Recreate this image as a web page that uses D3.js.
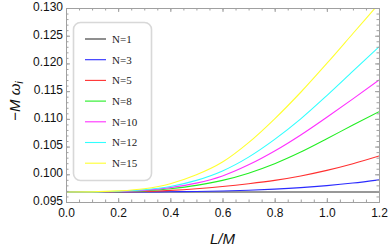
<!DOCTYPE html>
<html>
<head>
<meta charset="utf-8">
<script src="https://cdn.jsdelivr.net/npm/d3@7"></script>
<style>
  body { margin: 0; background: #fff; }
  svg { display: block; }
</style>
</head>
<body>
<svg id="chart" width="390" height="248"></svg>
<script>
// L/M sample points
const lValues = [0, 0.1, 0.2, 0.3, 0.4, 0.5, 0.6, 0.7, 0.8, 0.9, 1.0, 1.1, 1.2];

// -M omega_i, one list per N
const n1 = [0.0968, 0.0968, 0.0968, 0.0968, 0.0968, 0.0968, 0.0968, 0.0968, 0.0968, 0.0968, 0.0968, 0.0968, 0.0968];
const n3 = [0.0968, 0.0968, 0.0968, 0.09682, 0.09685, 0.0969, 0.09699, 0.09713, 0.09733, 0.0976, 0.09796, 0.09842, 0.0990];
const n5 = [0.0968, 0.09681, 0.09684, 0.0969, 0.0971, 0.0974, 0.0978, 0.0983, 0.0989, 0.0997, 0.1007, 0.1019, 0.1033];
const n8 = [0.0968, 0.09681, 0.09687, 0.0970, 0.0974, 0.0980, 0.0989, 0.1002, 0.1019, 0.1040, 0.1064, 0.1089, 0.1113];
const n10 = [0.0968, 0.09682, 0.0969, 0.0971, 0.0976, 0.0984, 0.0997, 0.1017, 0.1042, 0.1071, 0.1103, 0.1136, 0.1170];
const n12 = [0.0968, 0.09682, 0.09695, 0.0972, 0.0978, 0.0989, 0.1006, 0.1031, 0.1063, 0.1100, 0.1142, 0.1186, 0.1230];
const n15 = [0.0968, 0.09683, 0.0970, 0.0974, 0.0983, 0.0999, 0.1022, 0.1057, 0.1100, 0.1148, 0.1200, 0.1254, 0.1308];

const seriesNames = ["N=1", "N=3", "N=5", "N=8", "N=10", "N=12", "N=15"];
const seriesValues = [n1, n3, n5, n8, n10, n12, n15];
const seriesColors = ["#333333", "#2b2bff", "#ff3030", "#22ee22", "#ff30ff", "#30ffff", "#ffff30"];

const xTicks = [0, 0.2, 0.4, 0.6, 0.8, 1.0, 1.2];
const yTicks = [0.095, 0.100, 0.105, 0.110, 0.115, 0.120, 0.125, 0.130];

const margin = { left: 66, right: 11, top: 8, bottom: 46 };
const width = 390;
const height = 248;

const svg = d3.select("#chart");

const x = d3.scaleLinear().domain([0, 1.2]).range([margin.left, width - margin.right]);
const y = d3.scaleLinear().domain([0.095, 0.130]).range([height - margin.bottom, margin.top]);

const frameColor = "#a0a0a0";

svg.append("defs")
  .append("clipPath")
  .attr("id", "plot-clip")
  .append("rect")
  .attr("x", x(0))
  .attr("y", y(0.130))
  .attr("width", x(1.2) - x(0))
  .attr("height", y(0.095) - y(0.130));

// curves
const line = d3.line()
  .x((d, i) => x(lValues[i]))
  .y((d) => y(d))
  .curve(d3.curveMonotoneX);

svg.append("g")
  .attr("clip-path", "url(#plot-clip)")
  .selectAll("path")
  .data(seriesValues)
  .join("path")
  .attr("fill", "none")
  .attr("stroke", (d, i) => seriesColors[i])
  .attr("stroke-width", 1.1)
  .attr("d", line);

// frame with inside ticks (Mathematica style)
const xMinor = d3.range(0, 1.2001, 0.05);
const yMinor = d3.range(0.095, 0.13001, 0.001);

const bottomAxis = d3.axisBottom(x).tickValues(xTicks).tickFormat(d3.format(".1f")).tickSizeInner(-4).tickSizeOuter(0).tickPadding(6);
const leftAxis = d3.axisLeft(y).tickValues(yTicks).tickFormat(d3.format(".3f")).tickSizeInner(-4).tickSizeOuter(0).tickPadding(3);

svg.append("g").attr("transform", `translate(0,${y(0.095)})`).call(bottomAxis);
svg.append("g").attr("class", "yaxis").attr("transform", `translate(${x(0)},0)`).call(leftAxis);

svg.append("g").attr("transform", `translate(0,${y(0.130)})`)
  .call(d3.axisTop(x).tickValues(xTicks).tickFormat("").tickSizeInner(-4).tickSizeOuter(0));
svg.append("g").attr("transform", `translate(${x(1.2)},0)`)
  .call(d3.axisRight(y).tickValues(yTicks).tickFormat("").tickSizeInner(-4).tickSizeOuter(0));

// minor ticks
svg.append("g").attr("transform", `translate(0,${y(0.095)})`)
  .call(d3.axisBottom(x).tickValues(xMinor).tickFormat("").tickSizeInner(-2.5).tickSizeOuter(0));
svg.append("g").attr("transform", `translate(0,${y(0.130)})`)
  .call(d3.axisTop(x).tickValues(xMinor).tickFormat("").tickSizeInner(-2.5).tickSizeOuter(0));
svg.append("g").attr("transform", `translate(${x(0)},0)`)
  .call(d3.axisLeft(y).tickValues(yMinor).tickFormat("").tickSizeInner(-2.5).tickSizeOuter(0));
svg.append("g").attr("transform", `translate(${x(1.2)},0)`)
  .call(d3.axisRight(y).tickValues(yMinor).tickFormat("").tickSizeInner(-2.5).tickSizeOuter(0));

svg.selectAll(".domain").attr("stroke", frameColor);
svg.selectAll(".tick line").attr("stroke", frameColor);
svg.selectAll(".tick text")
  .attr("fill", "#111")
  .style("font-family", "'Liberation Sans', Arial, sans-serif")
  .style("font-size", "12px");
svg.selectAll(".yaxis .tick text").attr("dy", "0.2em");

// axis titles
svg.append("text")
  .attr("x", (x(0) + x(1.2)) / 2)
  .attr("y", 244)
  .attr("text-anchor", "middle")
  .style("font-family", "'Liberation Sans', Arial, sans-serif")
  .style("font-size", "15px")
  .style("font-style", "italic")
  .attr("fill", "#111")
  .text("L/M");

const yTitle = svg.append("text")
  .attr("transform", `translate(20,${(y(0.095) + y(0.130)) / 2 - 4}) rotate(-90)`)
  .attr("text-anchor", "middle")
  .style("font-family", "'Liberation Sans', Arial, sans-serif")
  .style("font-size", "15px")
  .attr("fill", "#111");
yTitle.append("tspan").text("\u2212");
yTitle.append("tspan").style("font-style", "italic").text("M ");
yTitle.append("tspan").style("font-style", "italic").text("\u03c9");
yTitle.append("tspan").style("font-style", "italic").style("font-size", "11px").attr("dy", 3).text("i");

// legend
const legend = svg.append("g").attr("transform", "translate(73,22)");
legend.append("rect")
  .attr("x", 0.5)
  .attr("y", 0.5)
  .attr("width", 78)
  .attr("height", 158)
  .attr("rx", 7)
  .attr("fill", "#fff")
  .attr("stroke", "#d8d8d8")
  .attr("stroke-width", 1.6);

const items = legend.selectAll(".item")
  .data(seriesNames)
  .join("g")
  .attr("class", "item")
  .attr("transform", (d, i) => `translate(0,${17 + i * 20.7})`);

items.append("line")
  .attr("x1", 12)
  .attr("x2", 33)
  .attr("stroke", (d, i) => seriesColors[i])
  .attr("stroke-width", 1.1);

items.append("text")
  .attr("x", 39)
  .attr("dy", "0.35em")
  .style("font-family", "'Liberation Serif', 'Times New Roman', serif")
  .style("font-size", "11px")
  .attr("fill", "#222")
  .text((d) => d);
</script>
</body>
</html>
